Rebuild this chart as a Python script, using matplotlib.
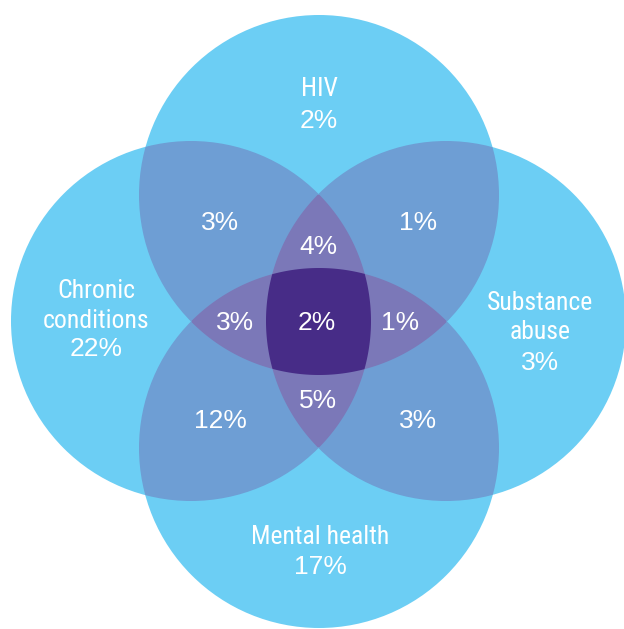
import numpy as np
import matplotlib
matplotlib.use("Agg")
import matplotlib.pyplot as plt
from matplotlib.patches import Circle, Polygon

# sets and their labels / shares
set_names = ["HIV", "Chronic\nconditions", "Substance\nabuse", "Mental health"]
set_only = ["2%", "22%", "3%", "17%"]

# overlaps (shown inside the lenses)
pair_labels = ["3%", "1%", "12%", "3%"]          # HIV+Chronic, HIV+Subst, Chronic+Mental, Subst+Mental
triple_labels = ["4%", "3%", "1%", "5%"]         # top, left, right, bottom triple regions
all_four = "2%"

# layout (pixel coords, y down)
W, H = 624, 629
R = 180
centers = {"T": (319, 195), "L": (191, 321), "R": (446, 321), "B": (319, 448)}

c1 = "#6ccef4"
c2 = "#6e9ed4"
c3 = "#7b78b8"
c4 = "#472c87"


def lens(a, b, n=720):
    (ax_, ay), (bx, by) = centers[a], centers[b]
    t = np.linspace(0, 2 * np.pi, n, endpoint=False)
    pa = np.c_[ax_ + R * np.cos(t), ay + R * np.sin(t)]
    pb = np.c_[bx + R * np.cos(t), by + R * np.sin(t)]
    pa = pa[np.hypot(pa[:, 0] - bx, pa[:, 1] - by) <= R]
    pb = pb[np.hypot(pb[:, 0] - ax_, pb[:, 1] - ay) <= R]
    pts = np.vstack([pa, pb])
    mx, my = (ax_ + bx) / 2, (ay + by) / 2
    order = np.argsort(np.arctan2(pts[:, 1] - my, pts[:, 0] - mx))
    return pts[order]


fig = plt.figure(figsize=(W / 100, H / 100), dpi=100)
ax = fig.add_axes([0, 0, 1, 1])
ax.set_xlim(0, W)
ax.set_ylim(H, 0)
ax.set_aspect("equal")
ax.axis("off")

circ = {}
for k, (x, y) in centers.items():
    circ[k] = Circle((x, y), R, facecolor=c1, edgecolor="none")
    ax.add_patch(circ[k])

# two-way overlaps
for a, b in [("T", "L"), ("T", "R"), ("B", "L"), ("B", "R")]:
    p = Circle(centers[a], R, facecolor=c2, edgecolor="none")
    ax.add_patch(p)
    p.set_clip_path(circ[b])

# three-way overlaps
lr = lens("L", "R")
tb = lens("T", "B")
for pts, k in [(lr, "T"), (lr, "B"), (tb, "L"), (tb, "R")]:
    p = Polygon(pts, closed=True, facecolor=c3, edgecolor="none")
    ax.add_patch(p)
    p.set_clip_path(circ[k])

# all four
clip_lr = Polygon(lr, closed=True, facecolor="none", edgecolor="none", transform=ax.transData)
p = Polygon(tb, closed=True, facecolor=c4, edgecolor="none")
ax.add_patch(p)
p.set_clip_path(clip_lr)

name_font = dict(family=["Roboto Condensed", "DejaVu Sans"], fontsize=18.5, color="white",
                 ha="center", va="center")
pct_font = dict(family=["Liberation Sans", "DejaVu Sans"], fontsize=19, color="white",
                ha="center", va="center")
dy = 2.5  # bbox centre sits a bit above the glyph centre

# set names (one text per line) and exclusive shares
name_pos = [(319, 87), (96, 289), (540, 300), (320, 535)]
pct_pos = [(319, 118), (96, 347), (540, 360), (320, 564)]
for (x, y), name in zip(name_pos, set_names):
    for i, line in enumerate(name.split("\n")):
        ax.text(x, y + 29.5 * i + dy, line, **name_font)
for (x, y), s in zip(pct_pos, set_only):
    ax.text(x, y + dy, s, **pct_font)

# overlaps
for (x, y), s in zip([(220, 221), (418, 221), (220, 418), (418, 418)], pair_labels):
    ax.text(x, y + dy, s, **pct_font)
for (x, y), s in zip([(318, 244), (235, 320), (400, 320), (318, 398)], triple_labels):
    ax.text(x, y + dy, s, **pct_font)
ax.text(317, 320 + dy, all_four, **pct_font)

fig.savefig("out.png", dpi=100, facecolor="white")
